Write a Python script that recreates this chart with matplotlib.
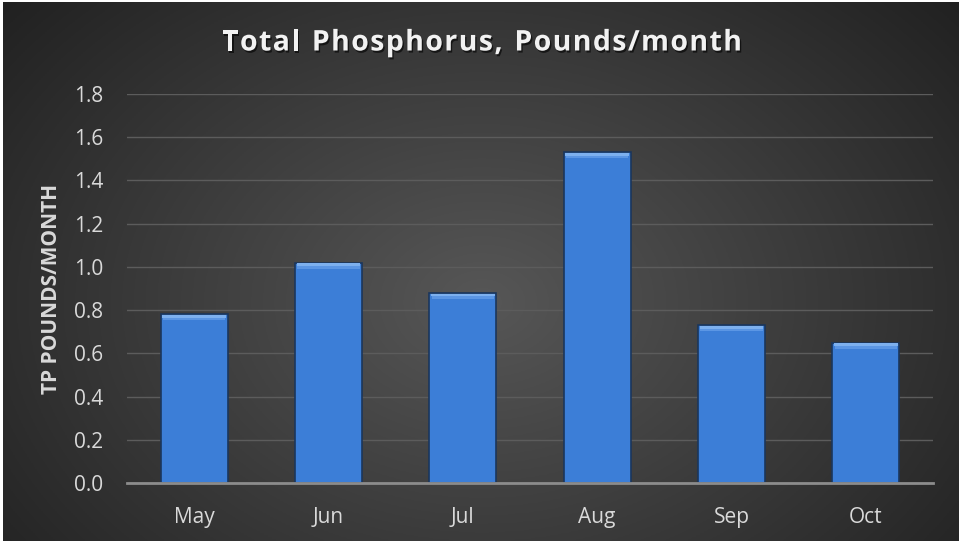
import numpy as np
import matplotlib
matplotlib.use("Agg")
import matplotlib.pyplot as plt
import matplotlib.patheffects as pe

months = ["May", "Jun", "Jul", "Aug", "Sep", "Oct"]
tp_pounds = [0.78, 1.02, 0.88, 1.53, 0.73, 0.65]
y_ticks = [0.0, 0.2, 0.4, 0.6, 0.8, 1.0, 1.2, 1.4, 1.6, 1.8]
title = "Total Phosphorus, Pounds/month"

plt.rcParams['font.family'] = ['Open Sans', 'DejaVu Sans']

W, H = 963, 544
fig = plt.figure(figsize=(W / 100, H / 100), dpi=100, facecolor="white")

# radial gradient background
bg = fig.add_axes([3 / W, 3 / H, 955 / W, 539 / H])
yy, xx = np.mgrid[0:270, 0:480]
cx, cy = 240, 150
d = np.sqrt(((xx - cx) / 300.0) ** 2 + ((yy - cy) / 220.0) ** 2)
shade = np.clip(0.34 - 0.2 * d, 0.13, 0.34)
bg.imshow(np.dstack([shade, shade, shade]), aspect="auto", extent=[0, 1, 0, 1])
bg.axis("off")

ax = fig.add_axes([127 / W, 1 - 483 / H, (933 - 127) / W, (483 - 94) / H])
ax.patch.set_alpha(0)
x = np.arange(len(months))
ax.bar(x, tp_pounds, width=0.5, color="#3c7ed7", edgecolor="#1b365c", linewidth=1.2, zorder=3)
# soft bevel on top of each bar
tops = np.array(tp_pounds)
ax.bar(x, [0.012] * len(x), bottom=tops - 0.016, width=0.475,
       color="#7db0ee", linewidth=0, zorder=4)
ax.bar(x, [0.012] * len(x), bottom=tops - 0.028, width=0.465,
       color="#5b96e4", linewidth=0, zorder=4)

ax.set_xlim(-0.5, len(months) - 0.5)
ax.set_ylim(0, 1.8)
ax.set_yticks(y_ticks)
ax.set_yticklabels([f"{v:.1f}" for v in y_ticks])
ax.set_xticks(x)
ax.set_xticklabels(months)
ax.tick_params(colors="#d9d9d9", labelsize=15, length=0, pad=17)
ax.grid(axis="y", color="#5c5c5c", linewidth=1, zorder=0)
for s in ["top", "right", "left"]:
    ax.spines[s].set_visible(False)
ax.spines["bottom"].set_color("#8c8c8c")
ax.spines["bottom"].set_linewidth(2)
ax.spines["bottom"].set_zorder(5)

ax.set_ylabel("TP POUNDS/MONTH", color="#d9d9d9", fontsize=15, fontweight="bold", labelpad=9)

# title with letter spacing, drawn char by char
renderer = fig.canvas.get_renderer()
shadow = [pe.withSimplePatchShadow(offset=(1, -1.5), shadow_rgbFace="black", alpha=0.6)]
widths = []
for ch in title:
    t = fig.text(0, 0, ch.replace(" ", "\u00a0"), fontsize=20.5, fontweight="bold")
    widths.append(t.get_window_extent(renderer).width if ch != " " else 0)
    t.remove()
space_w = 9.0
natural = sum(w if ch != " " else space_w for w, ch in zip(widths, title))
tracking = (520 - natural) / (len(title) - 1)
xpos = 222.0
for ch, w in zip(title, widths):
    if ch == " ":
        xpos += space_w + tracking
        continue
    fig.text(xpos / W, 1 - 43 / H, ch, fontsize=20.5, fontweight="bold", color="#f2f2f2",
             ha="left", va="center", path_effects=shadow)
    xpos += w + tracking

fig.savefig("out.png", dpi=100, facecolor="white")
